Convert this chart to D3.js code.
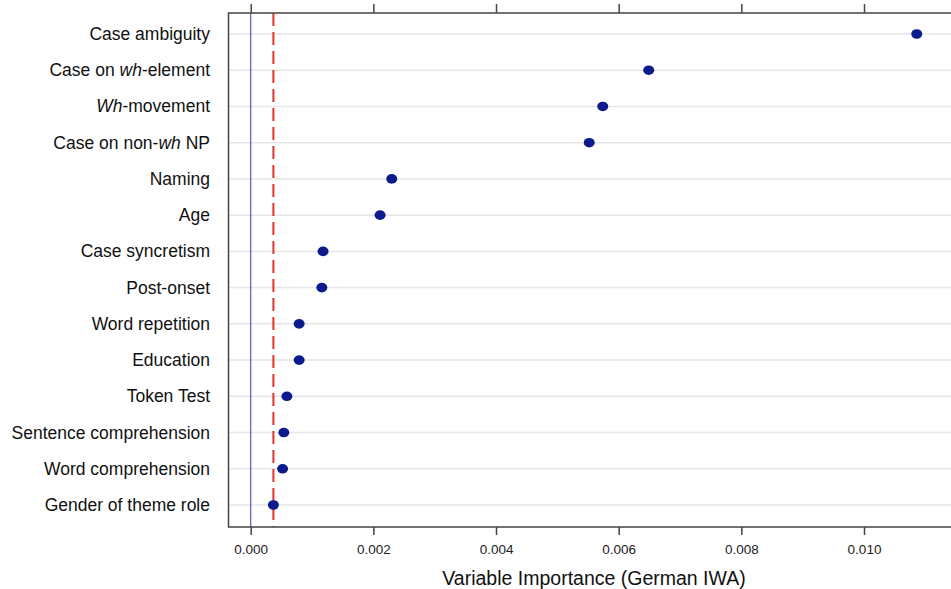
<!DOCTYPE html>
<html>
<head>
<meta charset="utf-8">
<script src="https://cdn.jsdelivr.net/npm/d3@7"></script>
<style>
  body { margin: 0; background: #fff; }
  text { font-family: "Liberation Sans", Arial, sans-serif; fill: #111; }
</style>
</head>
<body>
<svg id="chart" width="951" height="589"></svg>
<script>
// labels: *...* marks italic part
let variables = ["Case ambiguity", "Case on *wh*-element", "*Wh*-movement", "Case on non-*wh* NP",
  "Naming", "Age", "Case syncretism", "Post-onset", "Word repetition", "Education",
  "Token Test", "Sentence comprehension", "Word comprehension", "Gender of theme role"]
let importance = [0.01086, 0.00649, 0.00574, 0.00552, 0.00230, 0.00211, 0.00118, 0.00116,
  0.00079, 0.00079, 0.00059, 0.00054, 0.00052, 0.00037]
let x_ticks = [0, 0.002, 0.004, 0.006, 0.008, 0.010]
let threshold = 0.00037
let x_title = "Variable Importance (German IWA)"

let frame = {left: 228.5, right: 951, top: 13, bottom: 527}

let svg = d3.select("#chart")

let x = d3.scaleLinear().domain([0, 0.010]).range([250.7, 864])
let y = d3.scalePoint().domain(variables).range([34, 505])

// gridlines
svg.append("g")
  .selectAll("line")
  .data(variables).enter()
  .append("line")
  .attr("x1", frame.left).attr("x2", frame.right)
  .attr("y1", d => y(d)).attr("y2", d => y(d))
  .attr("stroke", "#e6e6e6").attr("stroke-width", 1.5)

// zero line and threshold
svg.append("line")
  .attr("x1", x(0)).attr("x2", x(0))
  .attr("y1", frame.top).attr("y2", frame.bottom)
  .attr("stroke", "#5b5bb0").attr("stroke-width", 1.2)
svg.append("line")
  .attr("x1", x(threshold)).attr("x2", x(threshold))
  .attr("y1", frame.top).attr("y2", frame.bottom)
  .attr("stroke", "#e2332f").attr("stroke-width", 2)
  .attr("stroke-dasharray", "13,6")

// frame
svg.append("path")
  .attr("d", `M${frame.right},${frame.top}H${frame.left}V${frame.bottom}H${frame.right}`)
  .attr("fill", "none").attr("stroke", "#444").attr("stroke-width", 1.5)

// axes
let x_axis_bottom = svg.append("g")
  .attr("transform", `translate(0, ${frame.bottom})`)
  .call(d3.axisBottom(x).tickValues(x_ticks).tickFormat(d3.format(".3f")).tickSize(8).tickPadding(9))
let x_axis_top = svg.append("g")
  .attr("transform", `translate(0, ${frame.top})`)
  .call(d3.axisTop(x).tickValues(x_ticks).tickFormat("").tickSize(9))
svg.selectAll(".domain").remove()
svg.selectAll(".tick line").attr("stroke", "#444").attr("stroke-width", 1.5)
x_axis_bottom.selectAll(".tick text")
  .style("font-family", "'Liberation Sans', Arial, sans-serif")
  .style("font-size", "13.5px").style("fill", "#222")

svg.append("text")
  .attr("x", 594).attr("y", 585)
  .attr("text-anchor", "middle")
  .attr("font-size", 19.5)
  .text(x_title)

// variable labels
svg.append("g")
  .selectAll("text")
  .data(variables).enter()
  .append("text")
  .attr("x", 210)
  .attr("y", d => y(d) + 6)
  .attr("text-anchor", "end")
  .attr("font-size", 17.5)
  .each(function(d) {
    let parts = d.split("*")
    parts.forEach((p, i) => {
      if (p.length == 0) return
      d3.select(this).append("tspan")
        .attr("font-style", i % 2 == 1 ? "italic" : "normal")
        .text(p)
    })
  })

// dots
svg.append("g")
  .selectAll("ellipse")
  .data(variables).enter()
  .append("ellipse")
  .attr("cx", (d, i) => x(importance[i]))
  .attr("cy", d => y(d))
  .attr("rx", 5.5).attr("ry", 4.8)
  .attr("fill", "#0b1a8c")
</script>
</body>
</html>
